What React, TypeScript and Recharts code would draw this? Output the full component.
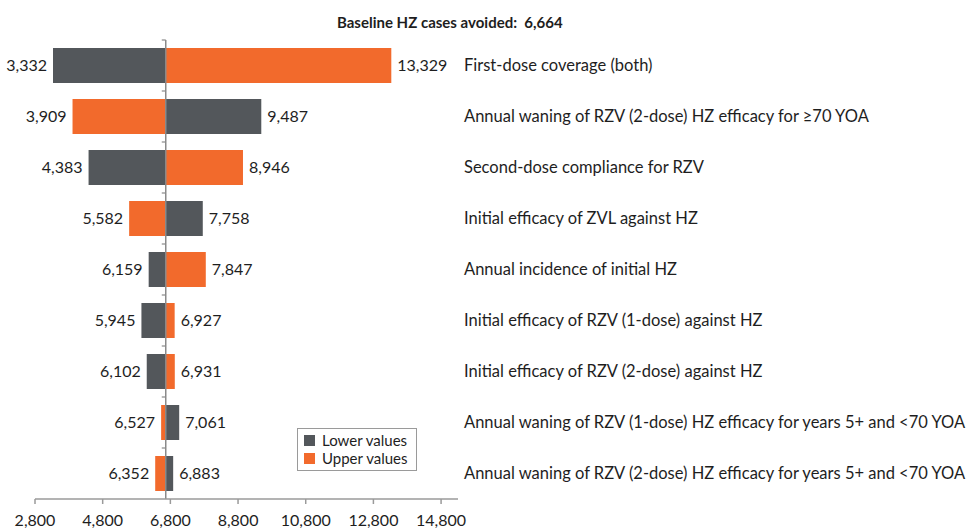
import React from "react";
import { BarChart, Bar, XAxis, YAxis, ReferenceLine, Legend, LabelList } from "recharts";

const BASELINE = 6664;

const categories = [
  "First-dose coverage (both)",
  "Annual waning of RZV (2-dose) HZ efficacy for ≥70 YOA",
  "Second-dose compliance for RZV",
  "Initial efficacy of ZVL against HZ",
  "Annual incidence of initial HZ",
  "Initial efficacy of RZV (1-dose) against HZ",
  "Initial efficacy of RZV (2-dose) against HZ",
  "Annual waning of RZV (1-dose) HZ efficacy for years 5+ and <70 YOA",
  "Annual waning of RZV (2-dose) HZ efficacy for years 5+ and <70 YOA",
];

// cases avoided when the input is set to its lower / upper value
const lowerValues = [3332, 9487, 4383, 7758, 6159, 5945, 6102, 7061, 6883];
const upperValues = [13329, 3909, 8946, 5582, 7847, 6927, 6931, 6527, 6352];

const xTicks = [2800, 4800, 6800, 8800, 10800, 12800, 14800];

const GRAY = "#53575b";
const ORANGE = "#f26a2c";
const TEXT = "#1e1e1e";

const span = (v: number): [number, number] => [Math.min(BASELINE, v), Math.max(BASELINE, v)];

const data = categories.map((name, i) => ({
  name,
  lower: span(lowerValues[i]),
  upper: span(upperValues[i]),
}));

const fmt = (v: number) => v.toLocaleString("en-US");

const valueLabel = (values: number[]) => (p: any) => {
  const v = values[p.index];
  const cy = p.y + p.height / 2;
  const left = v < BASELINE;
  return (
    <text
      x={left ? p.x - 6 : p.x + p.width + 6}
      y={cy}
      dy="0.35em"
      textAnchor={left ? "end" : "start"}
      fill={TEXT}
      fontSize={16}
    >
      {fmt(v)}
    </text>
  );
};

const CategoryTick = ({ x, y, payload }: any) => (
  <text x={x + 4} y={y} dy="0.35em" textAnchor="start" fill={TEXT} fontSize={16.5}>
    {payload.value}
  </text>
);

// baseline line with small ticks between the rows
const BaselineShape = (p: any) => {
  const top = Math.min(p.y1, p.y2);
  const bottom = Math.max(p.y1, p.y2);
  const step = (bottom - top) / categories.length;
  return (
    <g>
      <line x1={p.x1} x2={p.x1} y1={top} y2={bottom} stroke="#8a8a8a" strokeWidth={1.5} />
      {categories.map((_, k) => (
        <line
          key={k}
          x1={p.x1 - 4}
          x2={p.x1}
          y1={top + k * step}
          y2={top + k * step}
          stroke="#8a8a8a"
          strokeWidth={1.2}
        />
      ))}
    </g>
  );
};

const LegendBox = () => (
  <div
    style={{
      border: "1.5px solid #9a9a9a",
      padding: "2px 8px 3px 6px",
      background: "#fff",
      fontSize: 15,
      color: TEXT,
      lineHeight: "18px",
    }}
  >
    {[
      { label: "Lower values", color: GRAY },
      { label: "Upper values", color: ORANGE },
    ].map((e) => (
      <div key={e.label} style={{ display: "flex", alignItems: "center" }}>
        <span style={{ width: 11, height: 11, background: e.color, marginRight: 7, display: "inline-block" }} />
        {e.label}
      </div>
    ))}
  </div>
);

export default function App() {
  return (
    <div
      style={{
        position: "relative",
        width: 967,
        height: 529,
        overflow: "hidden",
        fontFamily: "Lato, sans-serif",
      }}
    >
      <style>{"body { margin: 0; }"}</style>
      <div
        style={{
          position: "absolute",
          top: 13,
          left: 337,
          fontSize: 15,
          fontWeight: 700,
          color: TEXT,
          whiteSpace: "pre",
        }}
      >
        {"Baseline HZ cases avoided:  6,664"}
      </div>
      <BarChart
        width={967}
        height={529}
        data={data}
        layout="vertical"
        margin={{ top: 40, right: 0, bottom: 0, left: 35 }}
        barSize={35}
        barGap={-35}
      >
        <XAxis
          type="number"
          domain={[2800, 15300]}
          ticks={xTicks}
          tickFormatter={fmt}
          axisLine={{ stroke: "#9a9a9a", strokeWidth: 1.5 }}
          tickLine={{ stroke: "#9a9a9a", strokeWidth: 1.5 }}
          tickSize={5}
          tickMargin={11}
          tick={{ fill: TEXT, fontSize: 16 }}
          height={30}
        />
        <YAxis
          type="category"
          dataKey="name"
          orientation="right"
          width={509}
          axisLine={false}
          tickLine={false}
          tickSize={0}
          tick={<CategoryTick />}
        />
        <Bar dataKey="lower" name="Lower values" fill={GRAY} isAnimationActive={false}>
          <LabelList content={valueLabel(lowerValues)} />
        </Bar>
        <Bar dataKey="upper" name="Upper values" fill={ORANGE} isAnimationActive={false}>
          <LabelList content={valueLabel(upperValues)} />
        </Bar>
        <ReferenceLine x={BASELINE} shape={BaselineShape} />
        <Legend
          layout="vertical"
          align="center"
          verticalAlign="middle"
          content={<LegendBox />}
          wrapperStyle={{ left: 297, top: 428, width: "auto" }}
        />
      </BarChart>
    </div>
  );
}
